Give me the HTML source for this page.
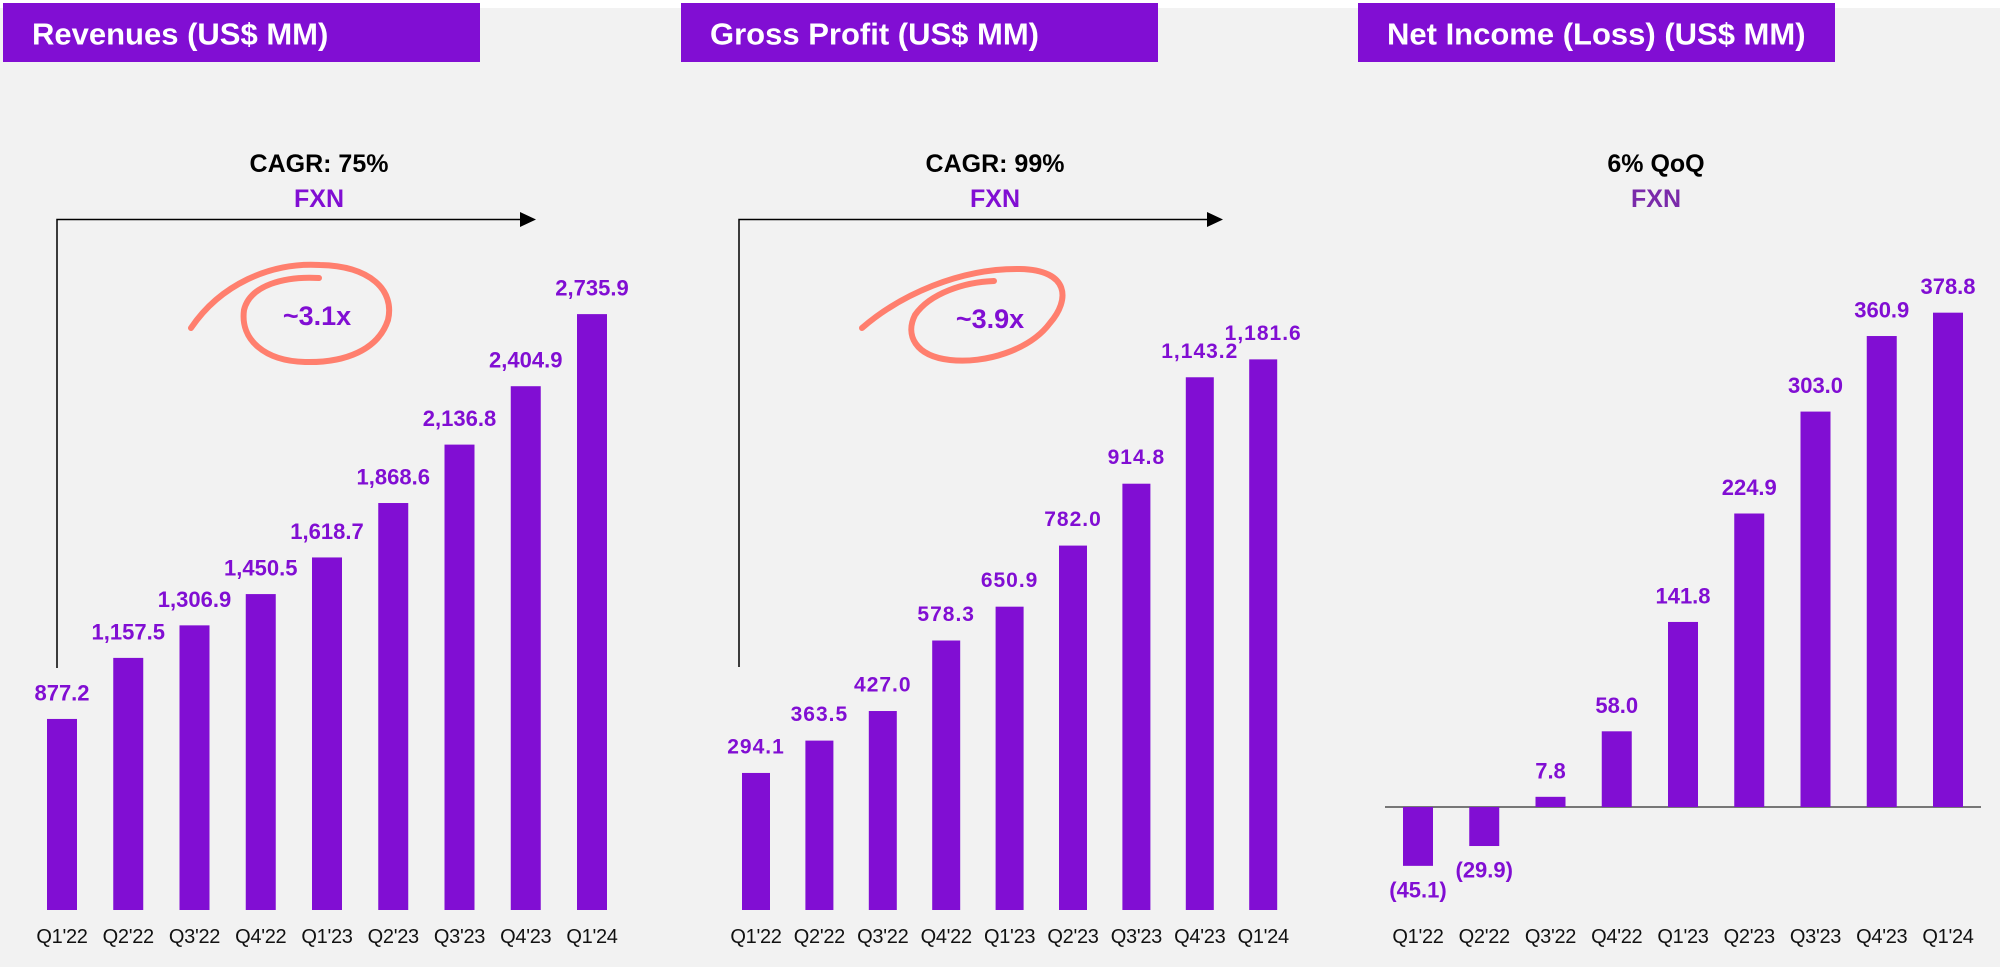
<!DOCTYPE html>
<html><head><meta charset="utf-8">
<style>
html,body{margin:0;padding:0;background:#f2f2f2;}
body{width:2000px;height:967px;overflow:hidden;position:relative;font-family:"Liberation Sans",sans-serif;}
svg{position:absolute;left:0;top:0;}
</style></head>
<body>
<svg id="c" width="2000" height="967" viewBox="0 0 2000 967" xmlns="http://www.w3.org/2000/svg">
<rect x="0" y="0" width="2000" height="8" fill="#ffffff"/>
</svg>
<script>
const categories = ["Q1'22","Q2'22","Q3'22","Q4'22","Q1'23","Q2'23","Q3'23","Q4'23","Q1'24"];
const revenues = [877.2,1157.5,1306.9,1450.5,1618.7,1868.6,2136.8,2404.9,2735.9];
const revenueLabels = ["877.2","1,157.5","1,306.9","1,450.5","1,618.7","1,868.6","2,136.8","2,404.9","2,735.9"];
const grossProfit = [294.1,363.5,427.0,578.3,650.9,782.0,914.8,1143.2,1181.6];
const grossLabels = ["294.1","363.5","427.0","578.3","650.9","782.0","914.8","1,143.2","1,181.6"];
const netIncome = [-45.1,-29.9,7.8,58.0,141.8,224.9,303.0,360.9,378.8];
const netLabels = ["(45.1)","(29.9)","7.8","58.0","141.8","224.9","303.0","360.9","378.8"];

const svg = document.getElementById('c');
const NS = 'http://www.w3.org/2000/svg';
const PURPLE = '#810ed3';
function mk(tag, attrs){const e=document.createElementNS(NS,tag);for(const k in attrs)e.setAttribute(k,attrs[k]);svg.appendChild(e);return e;}
function txt(x,y,s,size,weight,fill,extra){const t=mk('text',Object.assign({x:x,y:y,'font-size':size,'font-weight':weight,fill:fill,'text-anchor':'middle','dominant-baseline':'central','font-family':'"Liberation Sans",sans-serif'},extra||{}));t.textContent=s;return t;}

function panel(cfg){
  const h = mk('rect',{x:cfg.hx,y:3,width:477,height:59,fill:PURPLE});
  
  
  const ht = txt(cfg.hx+29,34,cfg.title,31,'bold','#fff',{'text-anchor':'start'});
  
  
  const s1 = txt(cfg.cx,164,cfg.sub1,25,'bold','#000');
  
  
  const s2 = txt(cfg.cx,199,'FXN',25,'bold',cfg.fxnColor||PURPLE);
  
  
  if(cfg.arrow){
    const a = mk('path',{d:`M${cfg.arrow.x0},${cfg.arrow.yb} L${cfg.arrow.x0},219.5 L${cfg.arrow.x1},219.5`,fill:'none',stroke:'#000','stroke-width':1.5});
    
    
    const head = mk('path',{d:`M${cfg.arrow.x1},212 L${cfg.arrow.x1+16},219.5 L${cfg.arrow.x1},227 z`,fill:'#000'});
    
    
  }
  if(cfg.swirl){
    const s=cfg.swirl;
    const p = mk('path',{d:s.d,fill:'none',stroke:'#ff7f6e','stroke-width':6,'stroke-linecap':'round'});
    
    
    const m = txt(s.cx,s.cy,s.label,27,'bold',PURPLE);
    
    
  }
  const yScale = v => cfg.zeroY - v*cfg.k;
  const xScale = i => cfg.x0 + i*cfg.step;
  if(cfg.zeroLine){
    const z = mk('line',{x1:cfg.zeroLine[0],x2:cfg.zeroLine[1],y1:cfg.zeroY,y2:cfg.zeroY,stroke:'#777','stroke-width':2});
    
    
  }
  cfg.values.forEach((v,i)=>{
    const x=xScale(i), y=yScale(v);
    const top=Math.min(y,cfg.zeroY), hgt=Math.abs(y-cfg.zeroY);
    const r = mk('rect',{x:x-cfg.bw/2,y:top,width:cfg.bw,height:hgt,fill:PURPLE});
    
    
    const ly = v>=0 ? top-26 : top+hgt+24;
    const l = txt(x,ly,cfg.labels[i],cfg.lsize,'bold',PURPLE,{'letter-spacing':cfg.ls||'0'});
    
    
    const c = txt(x,937,categories[i],cfg.csize,'normal','#111',{'letter-spacing':'-0.3'});
    
    
  });
}

panel({key:'revenues',hx:3,title:'Revenues (US$ MM)',cx:319,sub1:'CAGR: 75%',
  arrow:{x0:57,x1:520,yb:668},
  swirl:{cx:317,cy:316,label:'~3.1x',d:'M191,328 C220,285 270,262 320,265 C370,266 395,290 388,320 C378,350 345,363 305,362 C265,361 240,340 244,310 C250,285 285,276 319,278'},
  values:revenues,labels:revenueLabels,x0:62,step:66.25,bw:30,zeroY:910,k:0.2178,lsize:22,csize:20});
panel({key:'gross-profit',hx:681,title:'Gross Profit (US$ MM)',cx:995,sub1:'CAGR: 99%',
  arrow:{x0:739,x1:1207,yb:667},
  swirl:{cx:990,cy:319,label:'~3.9x',d:'M862,328 C900,295 960,268 1020,269 C1070,270 1070,300 1050,323 C1030,350 985,364 950,360 C915,356 905,335 915,315 C930,293 965,282 994,281'},
  values:grossProfit,labels:grossLabels,x0:756,step:63.4,bw:28,zeroY:910,k:0.466,lsize:21,csize:20,ls:'1'});
panel({key:'net-income',hx:1358,title:'Net Income (Loss) (US$ MM)',cx:1656,sub1:'6% QoQ',fxnColor:'#7a2aaa',
  values:netIncome,labels:netLabels,x0:1418,step:66.25,bw:30,zeroY:807,k:1.305,lsize:22,csize:20,zeroLine:[1385,1981]});
</script>
</body></html>
